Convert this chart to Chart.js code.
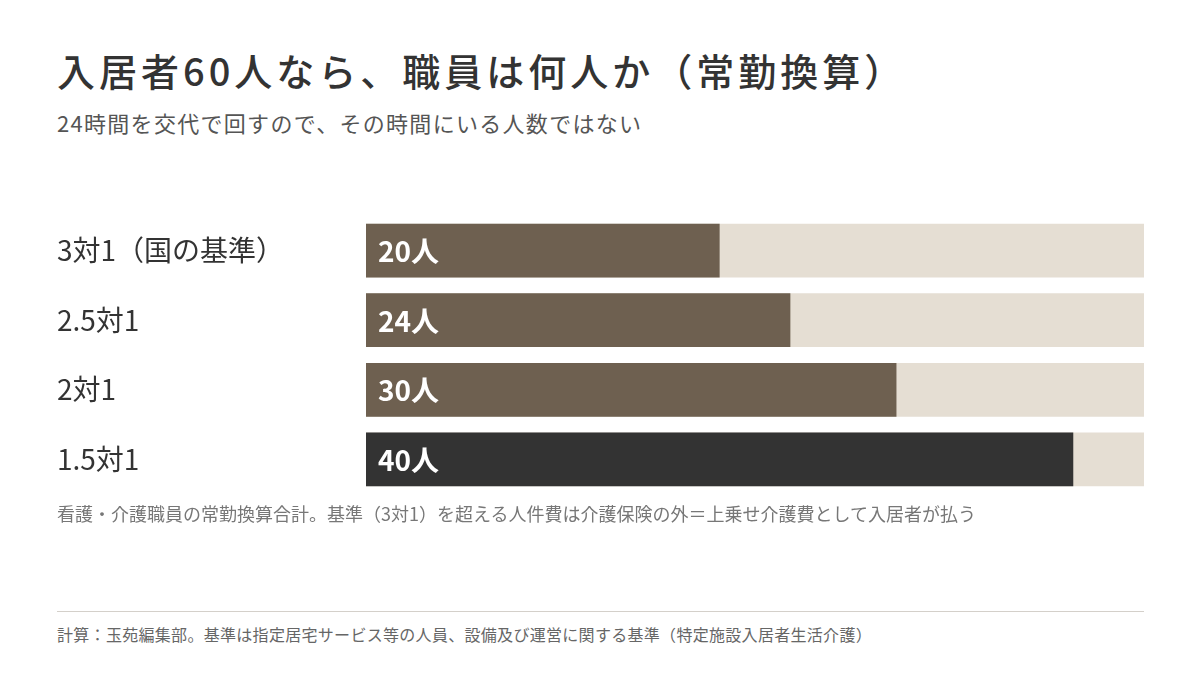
<!DOCTYPE html>
<html lang="ja">
<head>
<meta charset="utf-8">
<script src="https://cdn.jsdelivr.net/npm/chart.js@4"></script>
<style>
  body { margin: 0; width: 1200px; height: 675px; background: #fff; position: relative; overflow: hidden;
         font-family: "Noto Sans CJK JP", "Noto Sans", sans-serif; }
  #title { position: absolute; left: 57px; top: 42px; font-size: 38px; color: #333; font-weight: 500; letter-spacing: 4px; line-height: 56px; }
  #subtitle { position: absolute; left: 57px; top: 107px; font-size: 22px; color: #555; letter-spacing: 1.3px; line-height: 30px; }
  #wrap { position: absolute; left: 57px; top: 199px; width: 1087px; height: 312px; }
  #note { position: absolute; left: 57px; top: 500px; font-size: 18px; color: #777; line-height: 26px; }
  #rule { position: absolute; left: 57px; top: 611px; width: 1087px; height: 1px; background: #d4d0ca; }
  #source { position: absolute; left: 57px; top: 622px; font-size: 16px; color: #666; letter-spacing: 0.3px; line-height: 24px; }
</style>
</head>
<body>
<div id="title">入居者60人なら、職員は何人か（常勤換算）</div>
<div id="subtitle">24時間を交代で回すので、その時間にいる人数ではない</div>
<div id="wrap"><canvas id="staffChart"></canvas></div>
<div id="note">看護・介護職員の常勤換算合計。基準（3対1）を超える人件費は介護保険の外＝上乗せ介護費として入居者が払う</div>
<div id="rule"></div>
<div id="source">計算：玉苑編集部。基準は指定居宅サービス等の人員、設備及び運営に関する基準（特定施設入居者生活介護）</div>

<script>
// === データ ===
const ratios = ['3対1（国の基準）', '2.5対1', '2対1', '1.5対1'];
const staff = [20, 24, 30, 40];
const trackMax = 44;
const barColors = ['#6e6050', '#6e6050', '#6e6050', '#333333'];

// バーの中に「20人」などを描く
const valueLabels = {
    id: 'valueLabels',
    afterDatasetsDraw(chart) {
        const ctx = chart.ctx;
        const meta = chart.getDatasetMeta(1);
        ctx.save();
        ctx.fillStyle = '#fff';
        ctx.font = 'bold 28px "Noto Sans CJK JP"';
        ctx.textBaseline = 'middle';
        ctx.textAlign = 'left';
        meta.data.forEach((bar, i) => {
            ctx.fillText(staff[i] + '人', bar.base + 12, bar.y + 1);
        });
        ctx.restore();
    }
};

const staffCtx = document.getElementById('staffChart').getContext('2d');

new Chart(staffCtx, {
    type: 'bar',
    data: {
        labels: ratios,
        datasets: [
            {
                label: 'track',
                data: ratios.map(() => trackMax),
                backgroundColor: '#e5ded3',
                grouped: false,
                order: 2
            },
            {
                label: '職員数',
                data: staff,
                backgroundColor: barColors,
                grouped: false,
                order: 1
            }
        ]
    },
    options: {
        indexAxis: 'y',
        responsive: true,
        maintainAspectRatio: false,
        animation: false,
        events: [],
        layout: { padding: 0 },
        datasets: {
            bar: { barPercentage: 54 / 70, categoryPercentage: 1, borderWidth: 0 }
        },
        plugins: {
            legend: { display: false },
            tooltip: { enabled: false }
        },
        scales: {
            x: { display: false, min: 0, max: trackMax },
            y: {
                grid: { display: false },
                border: { display: false },
                ticks: {
                    crossAlign: 'far',
                    color: '#333',
                    padding: 0,
                    font: { size: 28, family: '"Noto Sans CJK JP"' }
                },
                afterFit(scale) { scale.width = 309; }
            }
        }
    },
    plugins: [valueLabels]
});
</script>
</body>
</html>
